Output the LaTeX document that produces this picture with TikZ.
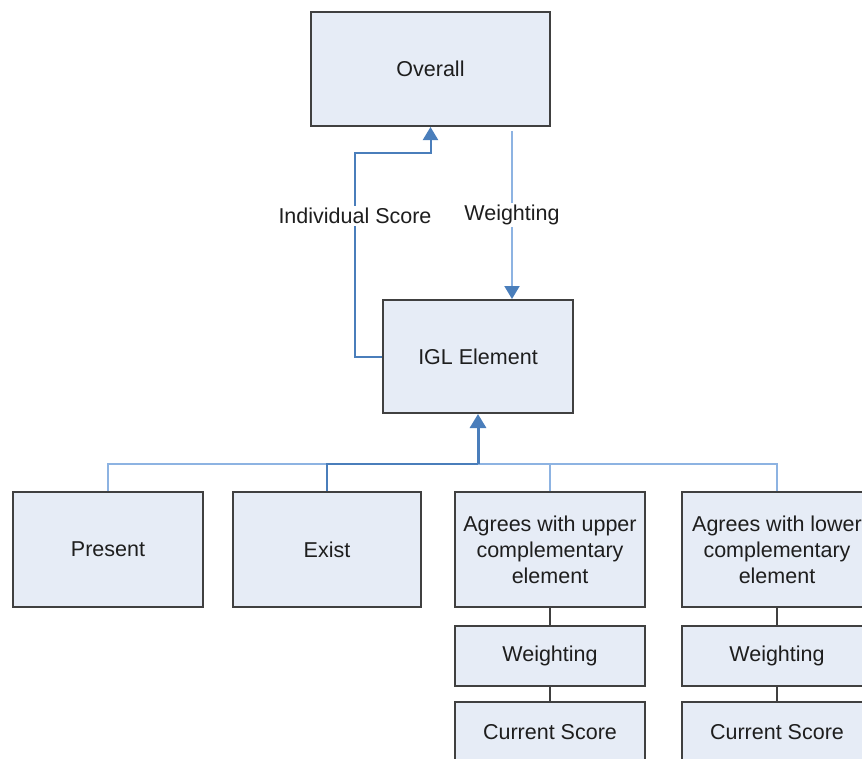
\documentclass[tikz,border=0pt]{standalone}
\usepackage{fontspec}
\setmainfont{Liberation Sans}
\usetikzlibrary{arrows.meta}
\definecolor{boxfill}{RGB}{230,236,246}
\definecolor{boxline}{RGB}{64,64,64}
\definecolor{darkblue}{RGB}{74,126,187}
\definecolor{lightblue}{RGB}{141,179,226}
\definecolor{inktext}{RGB}{30,30,30}
\tikzset{
  box/.style={draw=boxline, fill=boxfill, line width=2pt, rectangle,
    inner sep=0pt, align=center, text=inktext,
    font=\fontsize{21.5}{26}\selectfont},
  lbl/.style={fill=white, inner sep=2pt, text=inktext,
    font=\fontsize{21.5}{26}\selectfont},
  dk/.style={draw=darkblue, line width=2pt},
  lt/.style={draw=lightblue, line width=2pt},
  tip/.style={-{Triangle[width=15pt,length=13pt,fill=darkblue,color=darkblue]}},
  link/.style={draw=boxline, line width=2pt},
}
\begin{document}
\begin{tikzpicture}[x=1pt,y=-1pt]
\useasboundingbox (0,0) rectangle (862,758);
\clip (0,0) rectangle (862,758);

% upper hierarchy
\node[box, minimum width=239pt, minimum height=114pt] (overall) at (430.5,69) {Overall};
\node[box, minimum width=190pt, minimum height=113pt] (igl) at (478,356.5) {IGL Element};

% component boxes
\node[box, minimum width=190pt, minimum height=115pt] (present) at (108,549.5) {Present};
\node[box, minimum width=188pt, minimum height=115pt] (exist) at (327,549.5) {Exist};
\node[box, minimum width=190pt, minimum height=115pt] (upper) at (550,549.5) {Agrees with upper\\complementary\\element};
\node[box, minimum width=190pt, minimum height=115pt] (lower) at (777,549.5) {Agrees with lower\\complementary\\element};

% per-column detail boxes
\node[box, minimum width=190pt, minimum height=60pt] (wup) at (550,656) {Weighting};
\node[box, minimum width=190pt, minimum height=60pt] (cup) at (550,732) {Current Score};
\node[box, minimum width=190pt, minimum height=60pt] (wlo) at (777,656) {Weighting};
\node[box, minimum width=190pt, minimum height=60pt] (clo) at (777,732) {Current Score};

\draw[link] (upper.south) -- (wup.north);
\draw[link] (wup.south) -- (cup.north);
\draw[link] (lower.south) -- (wlo.north);
\draw[link] (wlo.south) -- (clo.north);

% bus joining the components to the element
\coordinate (bus) at (478,464);
\draw[lt] (present.north) |- (bus);
\draw[lt] (upper.north) |- (bus);
\draw[lt] (lower.north) |- (bus);
\draw[dk] (exist.north) |- (bus);
\draw[darkblue, line width=3pt, -{Triangle[width=16pt,length=14pt]}] (bus) -- (igl.south);

% score and weighting flows
\coordinate (iscorner) at (355,153);
\coordinate (wx) at (512,0);
\draw[dk, tip] (igl.west) -| (iscorner) -| (overall.south);
\draw[lt, tip, shorten <=4pt] (overall.south -| wx) -- (igl.north -| wx)
  node[lbl, midway, yshift=-2pt] (wlabel) {Weighting};
\node[lbl] (islabel) at (355,216) {Individual Score};
\end{tikzpicture}
\end{document}
